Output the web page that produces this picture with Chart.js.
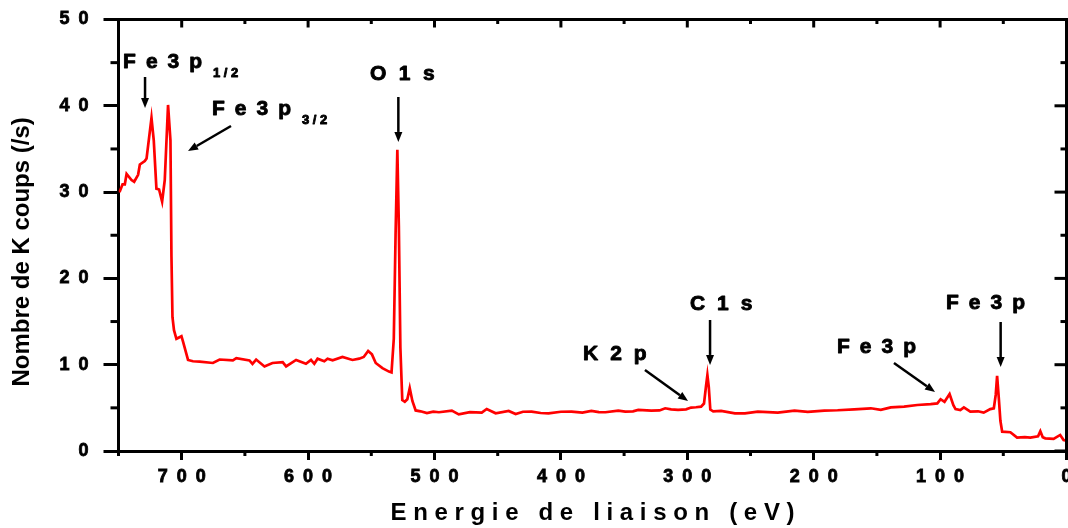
<!DOCTYPE html>
<html><head><meta charset="utf-8">
<script src="https://cdn.jsdelivr.net/npm/chart.js@4.4.1/dist/chart.umd.min.js"></script>
<style>html,body{margin:0;padding:0;background:#fff;overflow:hidden}</style>
</head><body>
<canvas id="c" width="1068" height="528"></canvas>
<script>
// Binding energy (eV) and counts (K counts/s)
const energy = [750, 748.9, 746.8, 745.0, 743.6, 739.7, 737.6, 734.5, 733.1, 729.2,
  727.8, 723.9, 722.1, 720.0, 717.9, 715.5, 713.4, 710.8, 708.9, 708.1,
  707.3, 706.1, 704.2, 702.9, 700.2, 699.0, 695.0, 691.1, 685.8, 675.3,
  670.0, 659.5, 656.8, 646.4, 644.0, 641.1, 634.5, 628.2, 620.1, 617.4,
  609.5, 601.7, 597.7, 595.1, 592.5, 587.2, 584.6, 580.6, 572.8, 564.9,
  559.6, 556.0, 552.5, 549.5, 546.5, 541.2, 536.0, 534.0, 532.2, 530.8,
  529.4, 528.2, 527.0, 525.5, 523.5, 521.5, 519.6, 517.5, 514.9, 511.0,
  506.0, 501.0, 496.5, 486.3, 480.8, 472.0, 462.6, 458.7, 451.6, 441.3,
  435.8, 430.0, 423.2, 416.0, 409.8, 400.0, 391.6, 383.0, 375.9, 370.0,
  364.8, 354.6, 349.1, 343.0, 338.8, 328.5, 322.0, 317.5, 312.8, 307.3,
  301.0, 297.0, 293.1, 289.1, 286.8, 285.2, 284.1, 283.0, 281.8, 279.5,
  273.3, 262.3, 254.4, 244.2, 228.4, 215.2, 204.7, 191.6, 181.1, 167.9,
  154.8, 146.9, 139.0, 128.5, 118.0, 107.5, 102.2, 99.6, 96.5, 92.5,
  89.5, 87.8, 84.0, 81.2, 76.1, 70.0, 65.5, 60.3, 57.5, 56.0,
  54.9, 53.5, 52.3, 50.9, 44.4, 39.1, 33.0, 28.6, 22.5, 20.7,
  18.8, 16.8, 10.2, 5.0, 2.3, 0];
const counts = [30.1, 30.1, 30.9, 30.9, 32.1, 31.4, 31.2, 32.0, 33.2, 33.6,
  33.9, 38.6, 36.0, 30.4, 30.3, 28.9, 31.4, 40.1, 36.0, 22.5,
  15.5, 14.0, 13.0, 13.1, 13.3, 12.7, 10.55, 10.4, 10.36, 10.2,
  10.6, 10.5, 10.75, 10.5, 10.1, 10.6, 9.8, 10.2, 10.3, 9.8,
  10.55, 10.1, 10.55, 10.1, 10.7, 10.4, 10.7, 10.5, 10.9, 10.55,
  10.7, 10.9, 11.6, 11.2, 10.2, 9.6, 9.2, 9.1, 13.0, 25.0,
  34.9, 26.0, 12.0, 5.9, 5.7, 6.0, 7.3, 5.8, 4.7, 4.6,
  4.4, 4.55, 4.49, 4.68, 4.25, 4.5, 4.45, 4.87, 4.37, 4.64,
  4.29, 4.55, 4.56, 4.4, 4.37, 4.55, 4.56, 4.45, 4.64, 4.5,
  4.49, 4.68, 4.56, 4.6, 4.76, 4.68, 4.7, 4.95, 4.83, 4.76,
  4.83, 5.03, 5.07, 5.14, 5.5, 7.5, 8.8, 7.4, 4.8, 4.6,
  4.64, 4.37, 4.37, 4.56, 4.45, 4.68, 4.53, 4.68, 4.72, 4.83,
  4.95, 4.76, 5.06, 5.14, 5.33, 5.44, 5.52, 6.0, 5.7, 6.6,
  5.3, 4.85, 4.75, 5.05, 4.56, 4.6, 4.45, 4.85, 4.95, 6.5,
  8.7, 6.0, 3.5, 2.24, 2.17, 1.55, 1.6, 1.55, 1.7, 2.3,
  1.6, 1.47, 1.4, 1.86, 1.28, 1.2];

const xMajorTicks = [0, 100, 200, 300, 400, 500, 600, 700];
const xMinorTicks = [50, 150, 250, 350, 450, 550, 650, 750];
const yMajorTicks = [0, 10, 20, 30, 40, 50];
const yMinorTicks = [5, 15, 25, 35, 45];

// Peak labels (anchor in data coordinates: energy, counts)
const peakLabels = [
  {text: 'Fe3p', sub: '1/2', e: 746.4, c: 44.38, gap: 10},
  {text: 'Fe3p', sub: '3/2', e: 676.0, c: 38.93, gap: 10},
  {text: 'O1s', e: 551.0, c: 42.99, gap: 12.5},
  {text: 'C1s', e: 297.9, c: 16.34, gap: 12},
  {text: 'K2p', e: 382.5, c: 10.54, gap: 12},
  {text: 'Fe3p', e: 181.6, c: 11.36, gap: 10},
  {text: 'Fe3p', e: 95.3, c: 16.45, gap: 10}
];
const peakArrows = [
  {e1: 729.0, c1: 43.34, e2: 729.0, c2: 39.74},
  {e1: 661.0, c1: 37.66, e2: 695.0, c2: 34.76},
  {e1: 528.6, c1: 41.02, e2: 528.6, c2: 35.81},
  {e1: 282.0, c1: 15.18, e2: 282.0, c2: 9.97},
  {e1: 333.5, c1: 9.39, e2: 299.4, c2: 5.79},
  {e1: 136.5, c1: 10.20, e2: 104.0, c2: 6.84},
  {e1: 52.1, c1: 14.95, e2: 52.1, c2: 9.73}
];

const FONT = "'Liberation Sans', Arial, sans-serif";
const spaced = v => String(v).split('').join('\u2002');

function drawSpaced(ctx, str, x, y, gap) {
  let cx = x;
  for (const ch of str) {
    ctx.strokeText(ch, cx, y);
    ctx.fillText(ch, cx, y);
    cx += ctx.measureText(ch).width + gap;
  }
  return cx - gap;
}
function drawArrow(ctx, x1, y1, x2, y2) {
  const a = Math.atan2(y2 - y1, x2 - x1);
  const hl = 10, hw = 4;
  const bx = x2 - hl * Math.cos(a), by = y2 - hl * Math.sin(a);
  ctx.beginPath(); ctx.moveTo(x1, y1); ctx.lineTo(bx, by); ctx.stroke();
  ctx.beginPath();
  ctx.moveTo(x2, y2);
  ctx.lineTo(bx + hw * Math.sin(a), by - hw * Math.cos(a));
  ctx.lineTo(bx - hw * Math.sin(a), by + hw * Math.cos(a));
  ctx.closePath(); ctx.fill();
}

const framePlugin = {
  id: 'frame',
  afterDraw(chart) {
    const {ctx, chartArea: a, scales: {x, y}} = chart;
    ctx.save();
    ctx.strokeStyle = '#000'; ctx.fillStyle = '#000'; ctx.lineWidth = 3; ctx.lineCap = 'butt';
    // top and right border
    ctx.beginPath();
    ctx.moveTo(a.left - 1.5, a.top); ctx.lineTo(a.right, a.top); ctx.lineTo(a.right, a.bottom + 1.5);
    ctx.stroke();
    // top ticks (inward) and bottom minor ticks (outward)
    xMajorTicks.forEach(v => { const p = x.getPixelForValue(v); ctx.beginPath(); ctx.moveTo(p, a.top); ctx.lineTo(p, a.top + 8); ctx.stroke(); });
    xMinorTicks.forEach(v => {
      const p = x.getPixelForValue(v);
      ctx.beginPath(); ctx.moveTo(p, a.top); ctx.lineTo(p, a.top + 4.5); ctx.stroke();
      ctx.beginPath(); ctx.moveTo(p, a.bottom); ctx.lineTo(p, a.bottom + 5); ctx.stroke();
    });
    // right ticks (inward) and left minor ticks (outward)
    yMajorTicks.forEach(v => { const p = y.getPixelForValue(v); ctx.beginPath(); ctx.moveTo(a.right, p); ctx.lineTo(a.right - 12, p); ctx.stroke(); });
    yMinorTicks.forEach(v => {
      const p = y.getPixelForValue(v);
      ctx.beginPath(); ctx.moveTo(a.right, p); ctx.lineTo(a.right - 6, p); ctx.stroke();
      ctx.beginPath(); ctx.moveTo(a.left, p); ctx.lineTo(a.left - 8, p); ctx.stroke();
    });
    // arrows
    ctx.lineWidth = 2.5;
    peakArrows.forEach(r => drawArrow(ctx, x.getPixelForValue(r.e1), y.getPixelForValue(r.c1), x.getPixelForValue(r.e2), y.getPixelForValue(r.c2)));
    // labels
    ctx.textBaseline = 'alphabetic'; ctx.textAlign = 'left';
    ctx.lineWidth = 0.9; ctx.lineJoin = 'round';
    peakLabels.forEach(l => {
      const px = x.getPixelForValue(l.e), py = y.getPixelForValue(l.c);
      ctx.font = "bold 21px " + FONT;
      const end = drawSpaced(ctx, l.text, px, py, l.gap);
      if (l.sub) {
        ctx.font = "bold 13px " + FONT;
        drawSpaced(ctx, l.sub, end + 11, py + 9, 3.5);
      }
    });
    ctx.restore();
  }
};

new Chart(document.getElementById('c'), {
  type: 'line',
  data: {
    datasets: [{
      data: energy.map((e, i) => ({x: e, y: counts[i]})),
      borderColor: '#ff0000', borderWidth: 2.7, pointRadius: 0, tension: 0, fill: false
    }]
  },
  options: {
    responsive: false, animation: false, devicePixelRatio: 1,
    layout: {padding: {top: 19.5, right: 1.5, left: 0, bottom: 0}},
    plugins: {legend: {display: false}, tooltip: {enabled: false}},
    scales: {
      x: {
        type: 'linear', reverse: true, min: 0, max: 750, position: 'bottom',
        ticks: {stepSize: 100, includeBounds: false, autoSkip: false, maxRotation: 0, padding: 6,
          color: '#000', textStrokeColor: '#000', textStrokeWidth: 0.8,
          font: {family: FONT, size: 18, weight: 'bold'}, callback: v => spaced(v)},
        grid: {display: true, drawOnChartArea: false, drawTicks: true, tickLength: 9, color: '#000', lineWidth: 3},
        border: {display: true, color: '#000', width: 3},
        title: {display: true, text: 'E n e r g i e   d e   l i a i s o n   ( e V )', color: '#000',
          font: {family: FONT, size: 24, weight: 'bold'}, padding: {top: 0, bottom: 0}},
        afterFit: s => { s.height = 77; s.paddingLeft = 0; s.paddingRight = 0; }
      },
      y: {
        type: 'linear', min: 0, max: 50,
        ticks: {stepSize: 10, padding: 15, color: '#000', textStrokeColor: '#000', textStrokeWidth: 0.8,
          font: {family: FONT, size: 18, weight: 'bold'}, callback: v => spaced(v)},
        grid: {display: true, drawOnChartArea: false, drawTicks: true, tickLength: 15, color: '#000', lineWidth: 3},
        border: {display: true, color: '#000', width: 3},
        title: {display: true, text: 'Nombre de K coups (/s)\u00a0\u00a0\u00a0\u00a0\u00a0', color: '#000',
          font: {family: FONT, size: 24, weight: 'bold'}, padding: {top: 8, bottom: 0}},
        afterFit: s => { s.width = 118.5; s.paddingTop = 0; s.paddingBottom = 0; }
      }
    }
  },
  plugins: [framePlugin]
});
</script>
</body></html>
